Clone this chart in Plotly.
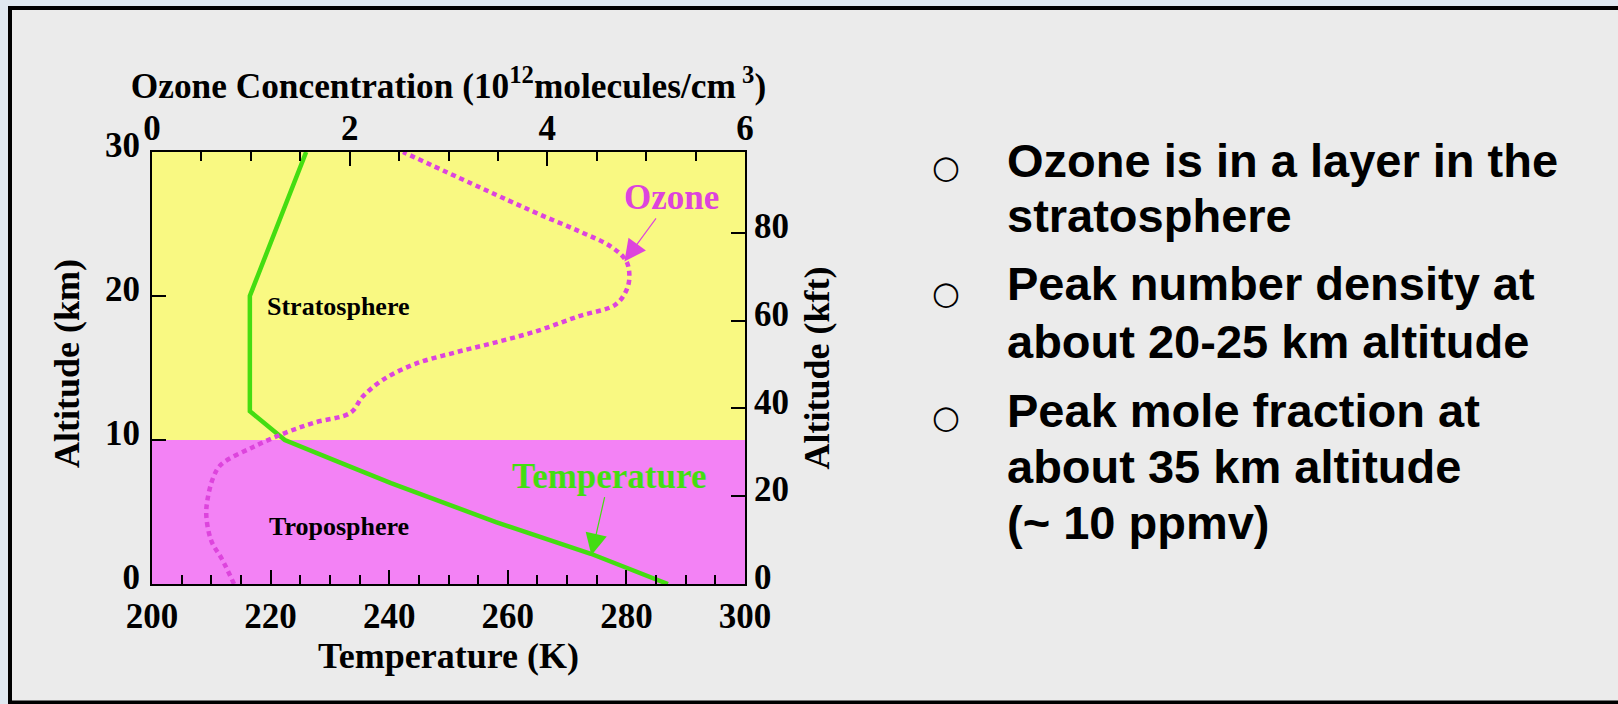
import plotly.graph_objects as go

W, H = 1618, 704

# ---------------- data ----------------
temp_alt_km = [0, 2.1, 4.3, 7.0, 8.6, 10.0, 12.0, 20.0, 30.0]
temp_K = [287, 274, 258, 240.3, 230.7, 222.4, 216.5, 216.5, 226]

ozone_alt_km = [0, 1.7, 3.0, 4.7, 5.8, 7.4, 8.3, 9.5, 10.5, 11.2, 11.9, 13.0, 14.2,
                15.3, 16.1, 16.8, 17.6, 18.6, 19.4, 20.4, 21.3, 22.4, 23.4, 24.5,
                25.7, 27.0, 30]
ozone_conc = [0.83, 0.71, 0.60, 0.55, 0.56, 0.62, 0.70, 1.02, 1.35, 1.64, 2.01, 2.13,
              2.34, 2.67, 3.08, 3.49, 3.91, 4.32, 4.69, 4.80, 4.83, 4.80, 4.65, 4.32,
              3.91, 3.49, 2.54]

layers = ["Troposphere", "Stratosphere"]
layer_bottom_km = [0, 10]
layer_top_km = [10, 30]

temp_ticks = [200, 220, 240, 260, 280, 300]
ozone_ticks = [0, 2, 4, 6]
km_ticks = [0, 10, 20, 30]
kft_ticks = [0, 20, 40, 60, 80]
KM_TO_KFT = 3.28084

bullets = [
    ["Ozone is in a layer in the", "stratosphere"],
    ["Peak number density at", "about 20-25 km altitude"],
    ["Peak mole fraction at", "about 35 km altitude", "(~ 10 ppmv)"],
]

# ---------------- styles ----------------
SERIF = "Liberation Serif"
SANS = "Liberation Sans"
GREEN = "#44dd11"
MAGENTA = "#dd44dd"
YELLOW = "#f9f982"
PINK = "#f382f5"


def px(xp):
    return xp / W


def py(yp):
    return 1 - yp / H


XD = [px(152), px(745)]
YD = [py(584), py(152)]

fig = go.Figure()

fig.add_trace(go.Scatter(
    x=temp_K, y=temp_alt_km, mode="lines", xaxis="x", yaxis="y",
    line=dict(color=GREEN, width=4.5), name="Temperature", showlegend=False))

fig.add_trace(go.Scatter(
    x=ozone_conc, y=ozone_alt_km, mode="lines", xaxis="x2", yaxis="y",
    line=dict(color=MAGENTA, width=4.5, dash="5px,4px"), name="Ozone",
    line_shape="spline", showlegend=False))

# invisible trace to activate the right axis
fig.add_trace(go.Scatter(
    x=[None], y=[None], xaxis="x", yaxis="y2", showlegend=False, hoverinfo="skip"))

tickfont = dict(family=SERIF, size=35, color="black", weight="bold")
titlefont = dict(family=SERIF, size=36, color="black", weight="bold")

common = dict(showgrid=False, zeroline=False, showline=True, linecolor="black",
              linewidth=2, ticks="inside", tickcolor="black", tickwidth=2,
              tickfont=tickfont, fixedrange=True, automargin=False)

fig.update_layout(
    width=W, height=H, autosize=False,
    margin=dict(l=0, r=0, t=0, b=0, pad=0, autoexpand=False),
    paper_bgcolor="#dfe8f0",
    plot_bgcolor="rgba(0,0,0,0)",
    xaxis=dict(domain=XD, range=[200, 300], tickvals=temp_ticks, ticklen=14,
               anchor="y", side="bottom", ticklabelstandoff=0,
               minor=dict(dtick=5, tick0=200, ticks="inside", ticklen=9,
                          tickwidth=2, tickcolor="black"),
               title=dict(text="Temperature (K)", font=titlefont, standoff=0),
               **common),
    xaxis2=dict(domain=XD, range=[0, 6], tickvals=ozone_ticks, ticklen=14,
                anchor="y", side="top", overlaying="x", ticklabelstandoff=-4,
                minor=dict(dtick=0.5, tick0=0, ticks="inside", ticklen=9,
                           tickwidth=2, tickcolor="black"),
                title=dict(text="Ozone Concentration (10<sup>12</sup>molecules/cm<sup> 3</sup>)",
                           font=dict(family=SERIF, size=35.3, color="black", weight="bold"),
                           standoff=0),
                **common),
    yaxis=dict(domain=YD, range=[0, 30], tickvals=km_ticks, ticklen=14,
               anchor="x", side="left", ticklabelstandoff=3, ticklabelshift=-7,
               **common),
    yaxis2=dict(domain=YD, range=[0, 30 * KM_TO_KFT], tickvals=kft_ticks, ticklen=14,
                anchor="x", side="right", overlaying="y", ticklabelstandoff=0,
                ticklabelshift=-7,
                title=dict(text="Altitude (kft)", font=titlefont, standoff=16),
                **common),
)

shapes = []
# slide frame
shapes.append(dict(type="rect", xref="paper", yref="paper", layer="below",
                   x0=px(10), x1=px(1640), y0=py(702.5), y1=py(8),
                   fillcolor="#ebebeb", line=dict(color="black", width=4)))
# atmospheric layers
layer_colors = [PINK, YELLOW]
for name, b, t, c in zip(layers, layer_bottom_km, layer_top_km, layer_colors):
    shapes.append(dict(type="rect", xref="x domain", yref="y", layer="below",
                       x0=0, x1=1, y0=b, y1=t, fillcolor=c, line=dict(width=0)))
fig.update_layout(shapes=shapes)

ann = []
# left axis title
ann.append(dict(x=px(67), y=py(364), xref="paper", yref="paper", text="Altitude (km)",
                textangle=-90, showarrow=False, xanchor="center", yanchor="middle",
                font=titlefont))
# layer names
ann.append(dict(x=231.5, y=19.3, xref="x", yref="y", text="Stratosphere",
                showarrow=False, font=dict(family=SERIF, size=26, color="black", weight="bold")))
ann.append(dict(x=231.5, y=4.0, xref="x", yref="y", text="Troposphere",
                showarrow=False, font=dict(family=SERIF, size=26, color="black", weight="bold")))
# series labels with arrows
ann.append(dict(x=4.78, y=22.4, xref="x2", yref="y", text="Ozone",
                showarrow=True, ax=47, ay=-64, arrowcolor=MAGENTA, arrowwidth=1.2,
                arrowhead=2, arrowsize=3.6, standoff=0,
                font=dict(family=SERIF, size=35, color=MAGENTA, weight="bold")))
ann.append(dict(x=274.1, y=2.0, xref="x", yref="y", text="Temperature",
                showarrow=True, ax=18, ay=-79, arrowcolor=GREEN, arrowwidth=1.2,
                arrowhead=2, arrowsize=3.6, standoff=0,
                font=dict(family=SERIF, size=35, color=GREEN, weight="bold")))

# bullet text
baselines = [[176.7, 231.7], [300, 358], [426.7, 483, 539]]
bullet_y = [166.7, 293, 416.7]
for lines, bls, by in zip(bullets, baselines, bullet_y):
    ann.append(dict(x=px(946), y=py(by), xref="paper", yref="paper", text="○",
                    showarrow=False, xanchor="center", yanchor="middle",
                    font=dict(family="DejaVu Sans", size=32, color="black")))
    for line, bl in zip(lines, bls):
        ann.append(dict(x=px(1005), y=py(bl - 16.3), xref="paper", yref="paper",
                        text=line, showarrow=False, xanchor="left", yanchor="middle",
                        font=dict(family=SANS, size=47, color="black", weight="bold")))
fig.update_layout(annotations=ann)

fig.write_html("out.html")
